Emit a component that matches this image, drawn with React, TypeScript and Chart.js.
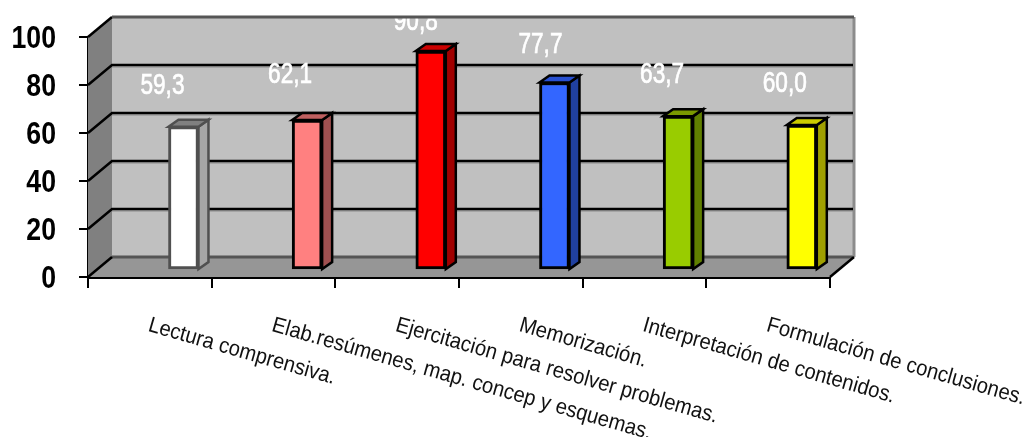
import React, { useEffect, useRef } from "react";
import { Chart, registerables } from "chart.js";

Chart.register(...registerables);

const categories = [
  "Lectura comprensiva.",
  "Elab.resúmenes, map. concep y esquemas.",
  "Ejercitación para resolver problemas.",
  "Memorización.",
  "Interpretación de contenidos.",
  "Formulación de conclusiones.",
];
const values = [59.3, 62.1, 90.8, 77.7, 63.7, 60.0];
const frontColors = ["#ffffff", "#ff8080", "#ff0000", "#3366ff", "#99cc00", "#ffff00"];
const sideColors = ["#a6a6a6", "#a05050", "#a00000", "#2040a0", "#608000", "#a0a000"];
const topColors = ["#808080", "#c06060", "#cc0000", "#2850d0", "#7a9900", "#cccc00"];
const borderColors = ["#505050", "#000000", "#000000", "#000000", "#000000", "#000000"];
const yTicks = [0, 20, 40, 60, 80, 100];

// Perspective offsets of the pseudo-3D box
const WALL_DX = 24;
const WALL_DY = -20;
const BAR_DX = 10;
const BAR_DY = -7;
const LABEL_NUDGE = [
  [-21, -41],
  [-17, -45],
  [-15, -29],
  [-14, -38],
  [-16, -41],
  [-17, -41],
];

const threeD = {
  id: "threeD",
  beforeDatasetsDraw(chart: any) {
    const { ctx, chartArea: a, scales } = chart;
    const y = scales.y;
    const L = a.left, R = a.right, T = a.top, B = a.bottom;
    const dx = WALL_DX, dy = WALL_DY;
    ctx.save();
    const poly = (pts: number[][], fill: string) => {
      ctx.beginPath();
      pts.forEach((p, i) => (i ? ctx.lineTo(p[0], p[1]) : ctx.moveTo(p[0], p[1])));
      ctx.closePath();
      ctx.fillStyle = fill;
      ctx.fill();
    };
    poly([[L + dx, T + dy], [R + dx, T + dy], [R + dx, B + dy], [L + dx, B + dy]], "#c0c0c0");
    poly([[L, T], [L + dx, T + dy], [L + dx, B + dy], [L, B]], "#808080");
    poly([[L, B], [L + dx, B + dy], [R + dx, B + dy], [R, B]], "#969696");
    // wall edges
    ctx.strokeStyle = "#555555";
    ctx.lineWidth = 3;
    ctx.beginPath();
    ctx.moveTo(L + dx, B + dy);
    ctx.lineTo(R + dx, B + dy);
    ctx.stroke();
    ctx.strokeStyle = "#8c8c8c";
    ctx.beginPath();
    ctx.moveTo(R + dx, T + dy);
    ctx.lineTo(R + dx, B + dy);
    ctx.stroke();
    // gridlines on back and left walls
    yTicks.forEach((v) => {
      const py = y.getPixelForValue(v);
      if (v > 0 && v < 100) {
        ctx.strokeStyle = "#8a8a8a";
        ctx.lineWidth = 1;
        ctx.beginPath();
        ctx.moveTo(L + dx, py + dy + 2);
        ctx.lineTo(R + dx, py + dy + 2);
        ctx.stroke();
      }
      ctx.strokeStyle = "#000000";
      ctx.lineWidth = 2.5;
      ctx.beginPath();
      ctx.moveTo(L, py);
      ctx.lineTo(L + dx, py + dy);
      if (v > 0 && v < 100) ctx.lineTo(R + dx - 1, py + dy);
      ctx.stroke();
    });
    ctx.beginPath();
    ctx.moveTo(R, B);
    ctx.lineTo(R + dx, B + dy);
    ctx.stroke();
    // bar depth faces
    const meta = chart.getDatasetMeta(0);
    meta.data.forEach((bar: any, i: number) => {
      const half = bar.width / 2;
      const xr = bar.x + half, xl = bar.x - half;
      const top = bar.y, base = bar.base;
      const side = [[xr, top], [xr + BAR_DX, top + BAR_DY], [xr + BAR_DX, base + BAR_DY], [xr, base]];
      const lid = [[xl, top], [xl + BAR_DX, top + BAR_DY], [xr + BAR_DX, top + BAR_DY], [xr, top]];
      [[side, sideColors[i]], [lid, topColors[i]]].forEach(([pts, fill]: any) => {
        poly(pts, fill);
        ctx.strokeStyle = borderColors[i];
        ctx.lineWidth = 2.5;
        ctx.stroke();
      });
    });
    ctx.restore();
  },
  afterDraw(chart: any) {
    const { ctx, scales, chartArea: a } = chart;
    const meta = chart.getDatasetMeta(0);
    ctx.save();
    // y tick labels, horizontally condensed
    ctx.fillStyle = "#000000";
    ctx.font = 'bold 31px "Liberation Sans", sans-serif';
    ctx.textAlign = "right";
    ctx.textBaseline = "middle";
    yTicks.forEach((v) => {
      ctx.save();
      ctx.translate(56, scales.y.getPixelForValue(v) + 2);
      ctx.scale(0.86, 1);
      ctx.fillText(String(v), 0, 0);
      ctx.restore();
    });
    // value labels, cut off by the top of the wall
    ctx.save();
    ctx.beginPath();
    ctx.rect(0, a.top + WALL_DY, chart.width, chart.height);
    ctx.clip();
    ctx.fillStyle = "#ffffff";
    ctx.strokeStyle = "#ffffff";
    ctx.lineWidth = 0.7;
    ctx.font = '29px "Liberation Sans", sans-serif';
    ctx.textAlign = "center";
    meta.data.forEach((bar: any, i: number) => {
      const [nx, ny] = LABEL_NUDGE[i];
      const text = values[i].toFixed(1).replace(".", ",");
      ctx.save();
      ctx.translate(bar.x + nx, bar.y + ny);
      ctx.scale(0.78, 1);
      ctx.fillText(text, 0, 0);
      ctx.strokeText(text, 0, 0);
      ctx.restore();
    });
    ctx.restore();
    // top edge of the back wall, over the labels
    ctx.strokeStyle = "#555555";
    ctx.lineWidth = 3;
    ctx.beginPath();
    ctx.moveTo(a.left + WALL_DX, a.top + WALL_DY);
    ctx.lineTo(a.right + WALL_DX, a.top + WALL_DY);
    ctx.stroke();
    // slanted category labels
    ctx.fillStyle = "#111111";
    ctx.font = '22px "Liberation Sans", sans-serif';
    ctx.textAlign = "left";
    categories.forEach((label, i) => {
      ctx.save();
      ctx.translate(scales.x.getPixelForValue(i) - 1, 325);
      ctx.rotate((16 * Math.PI) / 180);
      ctx.scale(0.92, 1);
      ctx.fillText(label, 0, 0);
      ctx.restore();
    });
    ctx.restore();
  },
};

export default function App() {
  const ref = useRef<HTMLCanvasElement>(null);
  useEffect(() => {
    const chart = new Chart(ref.current as HTMLCanvasElement, {
      type: "bar",
      data: {
        labels: categories,
        datasets: [
          {
            data: values.map((v, i) => ({ x: i, y: v })),
            xAxisID: "xBar",
            yAxisID: "yBar",
            backgroundColor: frontColors,
            borderColor: borderColors,
            borderWidth: 3,
            borderSkipped: false,
            barThickness: 30,
          },
        ],
      },
      plugins: [threeD],
      options: {
        responsive: false,
        animation: false,
        layout: { padding: { top: 37, right: 197, left: 0, bottom: 0 } },
        plugins: { legend: { display: false }, tooltip: { enabled: false } },
        scales: {
          x: {
            type: "category",
            position: "bottom",
            offset: true,
            afterFit: (s: any) => {
              s.height = 160;
            },
            grid: { drawOnChartArea: false, offset: true, color: "#000", lineWidth: 2, tickLength: 11 },
            border: { display: true, color: "#000", width: 3 },
            ticks: { display: false },
          },
          y: {
            min: 0,
            max: 100,
            position: "left",
            afterFit: (s: any) => {
              s.width = 88;
            },
            afterBuildTicks: (s: any) => {
              s.ticks = yTicks.map((value) => ({ value }));
            },
            grid: { drawOnChartArea: false, color: "#000", lineWidth: 2, tickLength: 9 },
            border: { display: true, color: "#000", width: 2 },
            ticks: { display: false },
          },
          xBar: {
            type: "linear",
            axis: "x",
            display: false,
            offset: false,
            grid: { offset: false },
            min: -0.772,
            max: 5.228,
          },
          yBar: {
            axis: "y",
            display: false,
            min: -3.33,
            max: 96.67,
          },
        },
      } as any,
    });
    return () => chart.destroy();
  }, []);
  return (
    <div style={{ position: "absolute", left: 0, top: 0, width: 1027, height: 437, background: "#fff" }}>
      <canvas ref={ref} width={1027} height={437} style={{ display: "block", filter: "blur(0.4px)" }} />
    </div>
  );
}
